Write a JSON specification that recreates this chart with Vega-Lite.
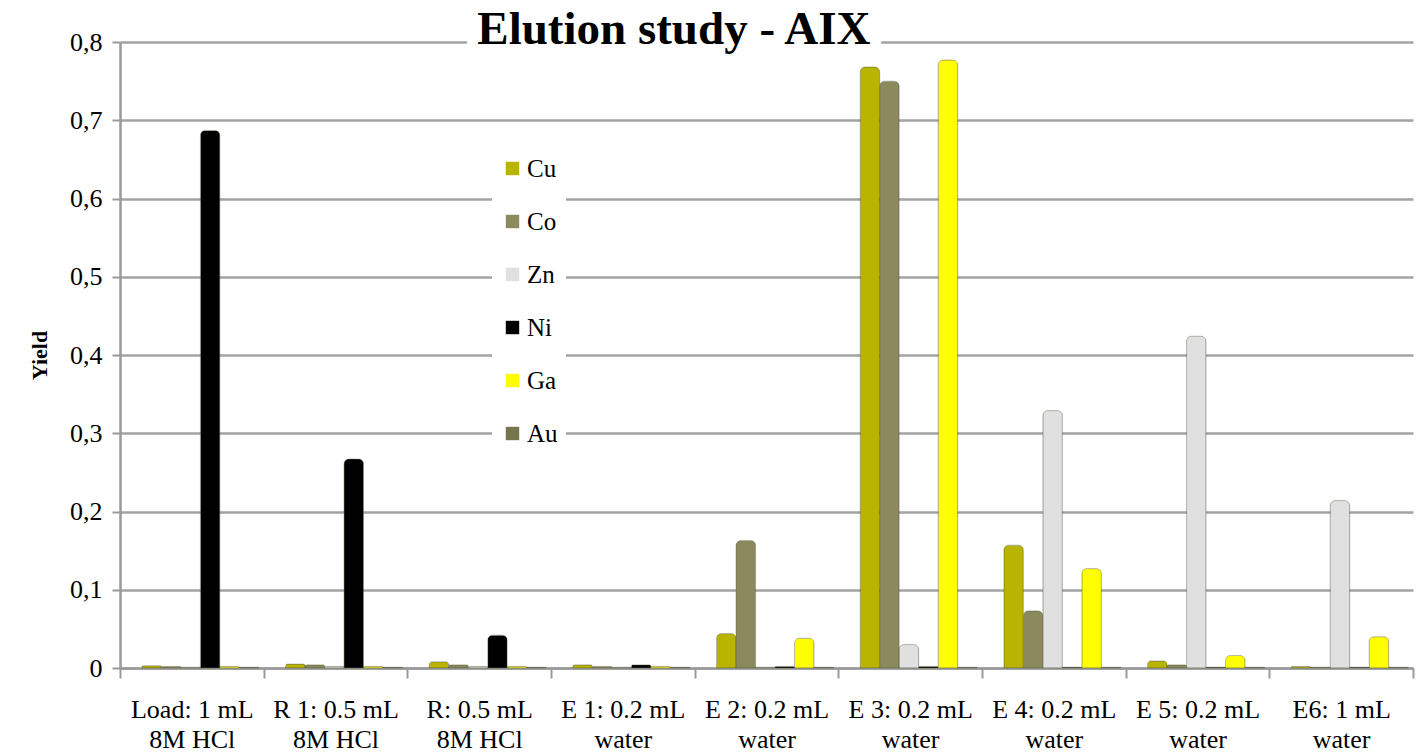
{
  "$schema": "https://vega.github.io/schema/vega-lite/v6.json",
  "width": 1293,
  "height": 626,
  "autosize": "none",
  "padding": {"left": 120, "top": 42, "right": 14, "bottom": 86},
  "background": "white",
  "config": {"font": "Liberation Serif", "view": {"stroke": null}},
  "data": {"values": [
    {"step": "Load: 1 mL|8M HCl", "metal": "Cu", "yield": 0.003},
    {"step": "Load: 1 mL|8M HCl", "metal": "Co", "yield": 0.002},
    {"step": "Load: 1 mL|8M HCl", "metal": "Zn", "yield": 0.001},
    {"step": "Load: 1 mL|8M HCl", "metal": "Ni", "yield": 0.687},
    {"step": "Load: 1 mL|8M HCl", "metal": "Ga", "yield": 0.002},
    {"step": "Load: 1 mL|8M HCl", "metal": "Au", "yield": 0.001},
    {"step": "R 1: 0.5 mL|8M HCl", "metal": "Cu", "yield": 0.005},
    {"step": "R 1: 0.5 mL|8M HCl", "metal": "Co", "yield": 0.004},
    {"step": "R 1: 0.5 mL|8M HCl", "metal": "Zn", "yield": 0.002},
    {"step": "R 1: 0.5 mL|8M HCl", "metal": "Ni", "yield": 0.267},
    {"step": "R 1: 0.5 mL|8M HCl", "metal": "Ga", "yield": 0.002},
    {"step": "R 1: 0.5 mL|8M HCl", "metal": "Au", "yield": 0.001},
    {"step": "R: 0.5 mL|8M HCl", "metal": "Cu", "yield": 0.008},
    {"step": "R: 0.5 mL|8M HCl", "metal": "Co", "yield": 0.004},
    {"step": "R: 0.5 mL|8M HCl", "metal": "Zn", "yield": 0.002},
    {"step": "R: 0.5 mL|8M HCl", "metal": "Ni", "yield": 0.042},
    {"step": "R: 0.5 mL|8M HCl", "metal": "Ga", "yield": 0.002},
    {"step": "R: 0.5 mL|8M HCl", "metal": "Au", "yield": 0.001},
    {"step": "E 1: 0.2 mL|water", "metal": "Cu", "yield": 0.004},
    {"step": "E 1: 0.2 mL|water", "metal": "Co", "yield": 0.002},
    {"step": "E 1: 0.2 mL|water", "metal": "Zn", "yield": 0.001},
    {"step": "E 1: 0.2 mL|water", "metal": "Ni", "yield": 0.004},
    {"step": "E 1: 0.2 mL|water", "metal": "Ga", "yield": 0.002},
    {"step": "E 1: 0.2 mL|water", "metal": "Au", "yield": 0.001},
    {"step": "E 2: 0.2 mL|water", "metal": "Cu", "yield": 0.044},
    {"step": "E 2: 0.2 mL|water", "metal": "Co", "yield": 0.163},
    {"step": "E 2: 0.2 mL|water", "metal": "Zn", "yield": 0.001},
    {"step": "E 2: 0.2 mL|water", "metal": "Ni", "yield": 0.002},
    {"step": "E 2: 0.2 mL|water", "metal": "Ga", "yield": 0.038},
    {"step": "E 2: 0.2 mL|water", "metal": "Au", "yield": 0.001},
    {"step": "E 3: 0.2 mL|water", "metal": "Cu", "yield": 0.768},
    {"step": "E 3: 0.2 mL|water", "metal": "Co", "yield": 0.75},
    {"step": "E 3: 0.2 mL|water", "metal": "Zn", "yield": 0.03},
    {"step": "E 3: 0.2 mL|water", "metal": "Ni", "yield": 0.002},
    {"step": "E 3: 0.2 mL|water", "metal": "Ga", "yield": 0.777},
    {"step": "E 3: 0.2 mL|water", "metal": "Au", "yield": 0.001},
    {"step": "E 4: 0.2 mL|water", "metal": "Cu", "yield": 0.157},
    {"step": "E 4: 0.2 mL|water", "metal": "Co", "yield": 0.073},
    {"step": "E 4: 0.2 mL|water", "metal": "Zn", "yield": 0.329},
    {"step": "E 4: 0.2 mL|water", "metal": "Ni", "yield": 0.001},
    {"step": "E 4: 0.2 mL|water", "metal": "Ga", "yield": 0.127},
    {"step": "E 4: 0.2 mL|water", "metal": "Au", "yield": 0.001},
    {"step": "E 5: 0.2 mL|water", "metal": "Cu", "yield": 0.009},
    {"step": "E 5: 0.2 mL|water", "metal": "Co", "yield": 0.004},
    {"step": "E 5: 0.2 mL|water", "metal": "Zn", "yield": 0.424},
    {"step": "E 5: 0.2 mL|water", "metal": "Ni", "yield": 0.001},
    {"step": "E 5: 0.2 mL|water", "metal": "Ga", "yield": 0.016},
    {"step": "E 5: 0.2 mL|water", "metal": "Au", "yield": 0.001},
    {"step": "E6: 1 mL|water", "metal": "Cu", "yield": 0.002},
    {"step": "E6: 1 mL|water", "metal": "Co", "yield": 0.001},
    {"step": "E6: 1 mL|water", "metal": "Zn", "yield": 0.214},
    {"step": "E6: 1 mL|water", "metal": "Ni", "yield": 0.001},
    {"step": "E6: 1 mL|water", "metal": "Ga", "yield": 0.04},
    {"step": "E6: 1 mL|water", "metal": "Au", "yield": 0.001}
  ]},
  "layer": [
    {
      "mark": {"type": "bar", "cornerRadiusTopLeft": 5, "cornerRadiusTopRight": 5, "stroke": "#55553a", "strokeWidth": 0.6, "strokeOpacity": 0.6},
      "encoding": {
        "x": {
          "field": "step", "type": "nominal", "sort": null,
          "scale": {"paddingInner": 0, "paddingOuter": 0},
          "axis": {
            "title": null, "labelAngle": 0, "labelFontSize": 26, "labelColor": "black",
            "labelExpr": "split(datum.label, '|')", "labelLineHeight": 30, "labelPadding": 18,
            "tickBand": "extent", "tickColor": "#9a9a9a", "tickSize": 10, "tickWidth": 2,
            "domainColor": "#9a9a9a", "domainWidth": 2.5
          }
        },
        "xOffset": {"field": "metal", "type": "nominal", "sort": ["Cu", "Co", "Zn", "Ni", "Ga", "Au"], "scale": {"paddingInner": 0, "paddingOuter": 0.684, "align": 0.82}},
        "y": {
          "field": "yield", "type": "quantitative",
          "scale": {"domain": [0, 0.8], "nice": false},
          "axis": {
            "title": "Yield", "titleFontSize": 22, "titleFontWeight": "bold", "titleColor": "black", "titlePadding": 18,
            "values": [0, 0.1, 0.2, 0.3, 0.4, 0.5, 0.6, 0.7, 0.8],
            "labelExpr": "datum.value == 0 ? '0' : replace(format(datum.value, '.1f'), '.', ',')",
            "labelFontSize": 26, "labelColor": "black", "labelPadding": 10,
            "grid": true, "gridColor": "#a3a3a3", "gridWidth": 2.5,
            "domainColor": "#9a9a9a", "domainWidth": 2.5,
            "tickColor": "#9a9a9a", "tickSize": 8, "tickWidth": 2
          }
        },
        "color": {
          "field": "metal", "type": "nominal",
          "scale": {"domain": ["Cu", "Co", "Zn", "Ni", "Ga", "Au"], "range": ["#b8b400", "#8a8a5c", "#e0e0e0", "#000000", "#ffff00", "#76764e"]},
          "legend": {
            "title": null, "orient": "none", "legendX": 372, "legendY": 106,
            "symbolType": "square", "symbolSize": 180, "symbolStrokeWidth": 0,
            "labelFontSize": 25, "labelColor": "black", "labelOffset": 2,
            "rowPadding": 27, "fillColor": "white", "padding": 8
          }
        }
      }
    },
    {
      "data": {"values": [{"t": "Elution study - AIX"}]},
      "mark": {"type": "text", "fontSize": 47, "fontWeight": "bold", "align": "center", "baseline": "middle", "dx": 51, "dy": -12, "stroke": "white", "strokeWidth": 22, "fill": "white"},
      "encoding": {"x": {"datum": "E 1: 0.2 mL|water"}, "y": {"datum": 0.8}, "text": {"field": "t"}}
    },
    {
      "data": {"values": [{"t": "Elution study - AIX"}]},
      "mark": {"type": "text", "fontSize": 47, "fontWeight": "bold", "align": "center", "baseline": "middle", "dx": 51, "dy": -12, "fill": "black"},
      "encoding": {"x": {"datum": "E 1: 0.2 mL|water"}, "y": {"datum": 0.8}, "text": {"field": "t"}}
    }
  ]
}
